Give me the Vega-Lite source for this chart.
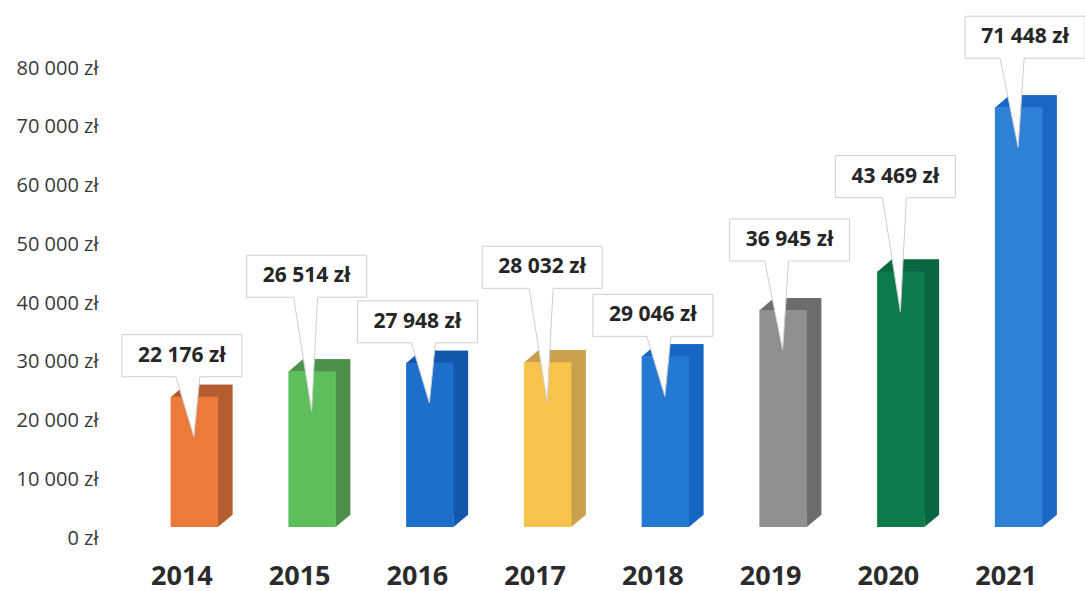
{
  "$schema": "https://vega.github.io/schema/vega-lite/v6.json",
  "autosize": {"type": "none"},
  "width": 942,
  "height": 470,
  "padding": {"left": 123, "top": 68, "right": 20, "bottom": 53},
  "background": "white",
  "config": {"view": {"stroke": null}, "font": "Open Sans"},
  "data": {"values": [
    {"year": "2014", "value": 22176, "grp": "A"},
    {"year": "2015", "value": 26514, "grp": "C"},
    {"year": "2016", "value": 27948, "grp": "A"},
    {"year": "2017", "value": 28032, "grp": "C"},
    {"year": "2018", "value": 29046, "grp": "A"},
    {"year": "2019", "value": 36945, "grp": "B"},
    {"year": "2020", "value": 43469, "grp": "C"},
    {"year": "2021", "value": 71448, "grp": "B"}
  ]},
  "encoding": {
    "x": {"field": "year", "type": "nominal", "sort": null,
      "scale": {"paddingInner": 0, "paddingOuter": 0},
      "axis": {"title": null, "domain": false, "ticks": false, "labelAngle": 0,
        "labelFont": "Open Sans", "labelFontWeight": "bold", "labelFontSize": 27,
        "labelColor": "#2b2b2b", "labelPadding": 25}},
    "y": {"field": "value", "type": "quantitative",
      "scale": {"domain": [0, 80000], "nice": false, "zero": true},
      "axis": {"title": null, "domain": false, "ticks": false, "grid": false,
        "values": [0, 10000, 20000, 30000, 40000, 50000, 60000, 70000, 80000],
        "labelExpr": "replace(format(datum.value, ','), regexp(',', 'g'), ' ') + ' zł'",
        "labelFont": "Open Sans", "labelFontSize": 20, "labelColor": "#3a3a3a",
        "labelPadding": 25}}
  },
  "layer": [
    {"mark": {"type": "bar", "width": 47.5, "xOffset": 27, "x2Offset": 27, "yOffset": -23, "y2Offset": -23},
     "encoding": {"color": {"field": "year", "type": "nominal", "legend": null, "scale": {"range": ["#B45E30","#4D914C","#1258AD","#C9A04C","#1565C2","#6C6C6C","#0A6640","#1A67C6"]}}}},
    {"mark": {"type": "point", "filled": true, "opacity": 1, "fillOpacity": 1, "strokeWidth": 0, "size": 10000, "xOffset": 12.5, "yOffset": -11,
       "shape": "M-0.475,0.01 L0.475,0.01 L0.765,-0.24 L-0.185,-0.24 Z"},
     "encoding": {"color": {"field": "year", "type": "nominal", "legend": null, "scale": {"range": ["#B45E30","#4D914C","#1258AD","#C9A04C","#1565C2","#6C6C6C","#0A6640","#1A67C6"]}}}},
    {"mark": {"type": "point", "filled": true, "opacity": 1, "fillOpacity": 1, "strokeWidth": 0, "size": 10000, "xOffset": 12.5, "yOffset": -11,
       "shape": "M0.47,0 L0.47,-0.245 L0.765,-0.245 Z"},
     "encoding": {"y": {"datum": 0}, "color": {"field": "year", "type": "nominal", "legend": null, "scale": {"range": ["#B45E30","#4D914C","#1258AD","#C9A04C","#1565C2","#6C6C6C","#0A6640","#1A67C6"]}}}},
    {"mark": {"type": "bar", "width": 47.5, "xOffset": 12.5, "x2Offset": 12.5, "yOffset": -11, "y2Offset": -11},
     "encoding": {"color": {"field": "year", "type": "nominal", "legend": null, "scale": {"range": ["#EC7A3B","#5DBF5C","#1E6ECB","#F7C34D","#2479D3","#8F8F8F","#0E7A4C","#2F80D7"]}}}},
    {"transform": [{"filter": "datum.grp == 'A'"}],
     "mark": {"type": "point", "filled": true, "fill": "white", "fillOpacity": 1, "opacity": 1, "stroke": "#cfcfcf", "strokeWidth": 1, "size": 10000, "yOffset": -52, "xOffset": 0,
       "shape": "M-1.2,-0.42 L1.2,-0.42 L1.2,0.42 L0.36,0.42 L0.24,1.62 L-0.12,0.42 L-1.2,0.42 Z"}},
    {"transform": [{"filter": "datum.grp == 'B'"}],
     "mark": {"type": "point", "filled": true, "fill": "white", "fillOpacity": 1, "opacity": 1, "stroke": "#cfcfcf", "strokeWidth": 1, "size": 10000, "yOffset": -81, "xOffset": 19,
       "shape": "M-1.2,-0.42 L1.2,-0.42 L1.2,0.42 L-0.02,0.42 L-0.14,2.2 L-0.5,0.42 L-1.2,0.42 Z"}},
    {"transform": [{"filter": "datum.grp == 'C'"}],
     "mark": {"type": "point", "filled": true, "fill": "white", "fillOpacity": 1, "opacity": 1, "stroke": "#cfcfcf", "strokeWidth": 1, "size": 10000, "yOffset": -106, "xOffset": 7,
       "shape": "M-1.2,-0.42 L1.2,-0.42 L1.2,0.42 L0.22,0.42 L0.1,2.7 L-0.26,0.42 L-1.2,0.42 Z"}},
    {"transform": [{"filter": "datum.grp == 'A'"}, {"calculate": "replace(format(datum.value, ','), regexp(',', 'g'), ' ') + ' zł'", "as": "label"}],
     "mark": {"type": "text", "font": "Open Sans", "fontWeight": "bold", "fontSize": 21, "color": "#262626", "baseline": "middle", "align": "center", "yOffset": -52, "xOffset": 0},
     "encoding": {"text": {"field": "label"}}},
    {"transform": [{"filter": "datum.grp == 'B'"}, {"calculate": "replace(format(datum.value, ','), regexp(',', 'g'), ' ') + ' zł'", "as": "label"}],
     "mark": {"type": "text", "font": "Open Sans", "fontWeight": "bold", "fontSize": 21, "color": "#262626", "baseline": "middle", "align": "center", "yOffset": -81, "xOffset": 19},
     "encoding": {"text": {"field": "label"}}},
    {"transform": [{"filter": "datum.grp == 'C'"}, {"calculate": "replace(format(datum.value, ','), regexp(',', 'g'), ' ') + ' zł'", "as": "label"}],
     "mark": {"type": "text", "font": "Open Sans", "fontWeight": "bold", "fontSize": 21, "color": "#262626", "baseline": "middle", "align": "center", "yOffset": -106, "xOffset": 7},
     "encoding": {"text": {"field": "label"}}}
  ],
  "resolve": {"scale": {"color": "independent"}}
}
